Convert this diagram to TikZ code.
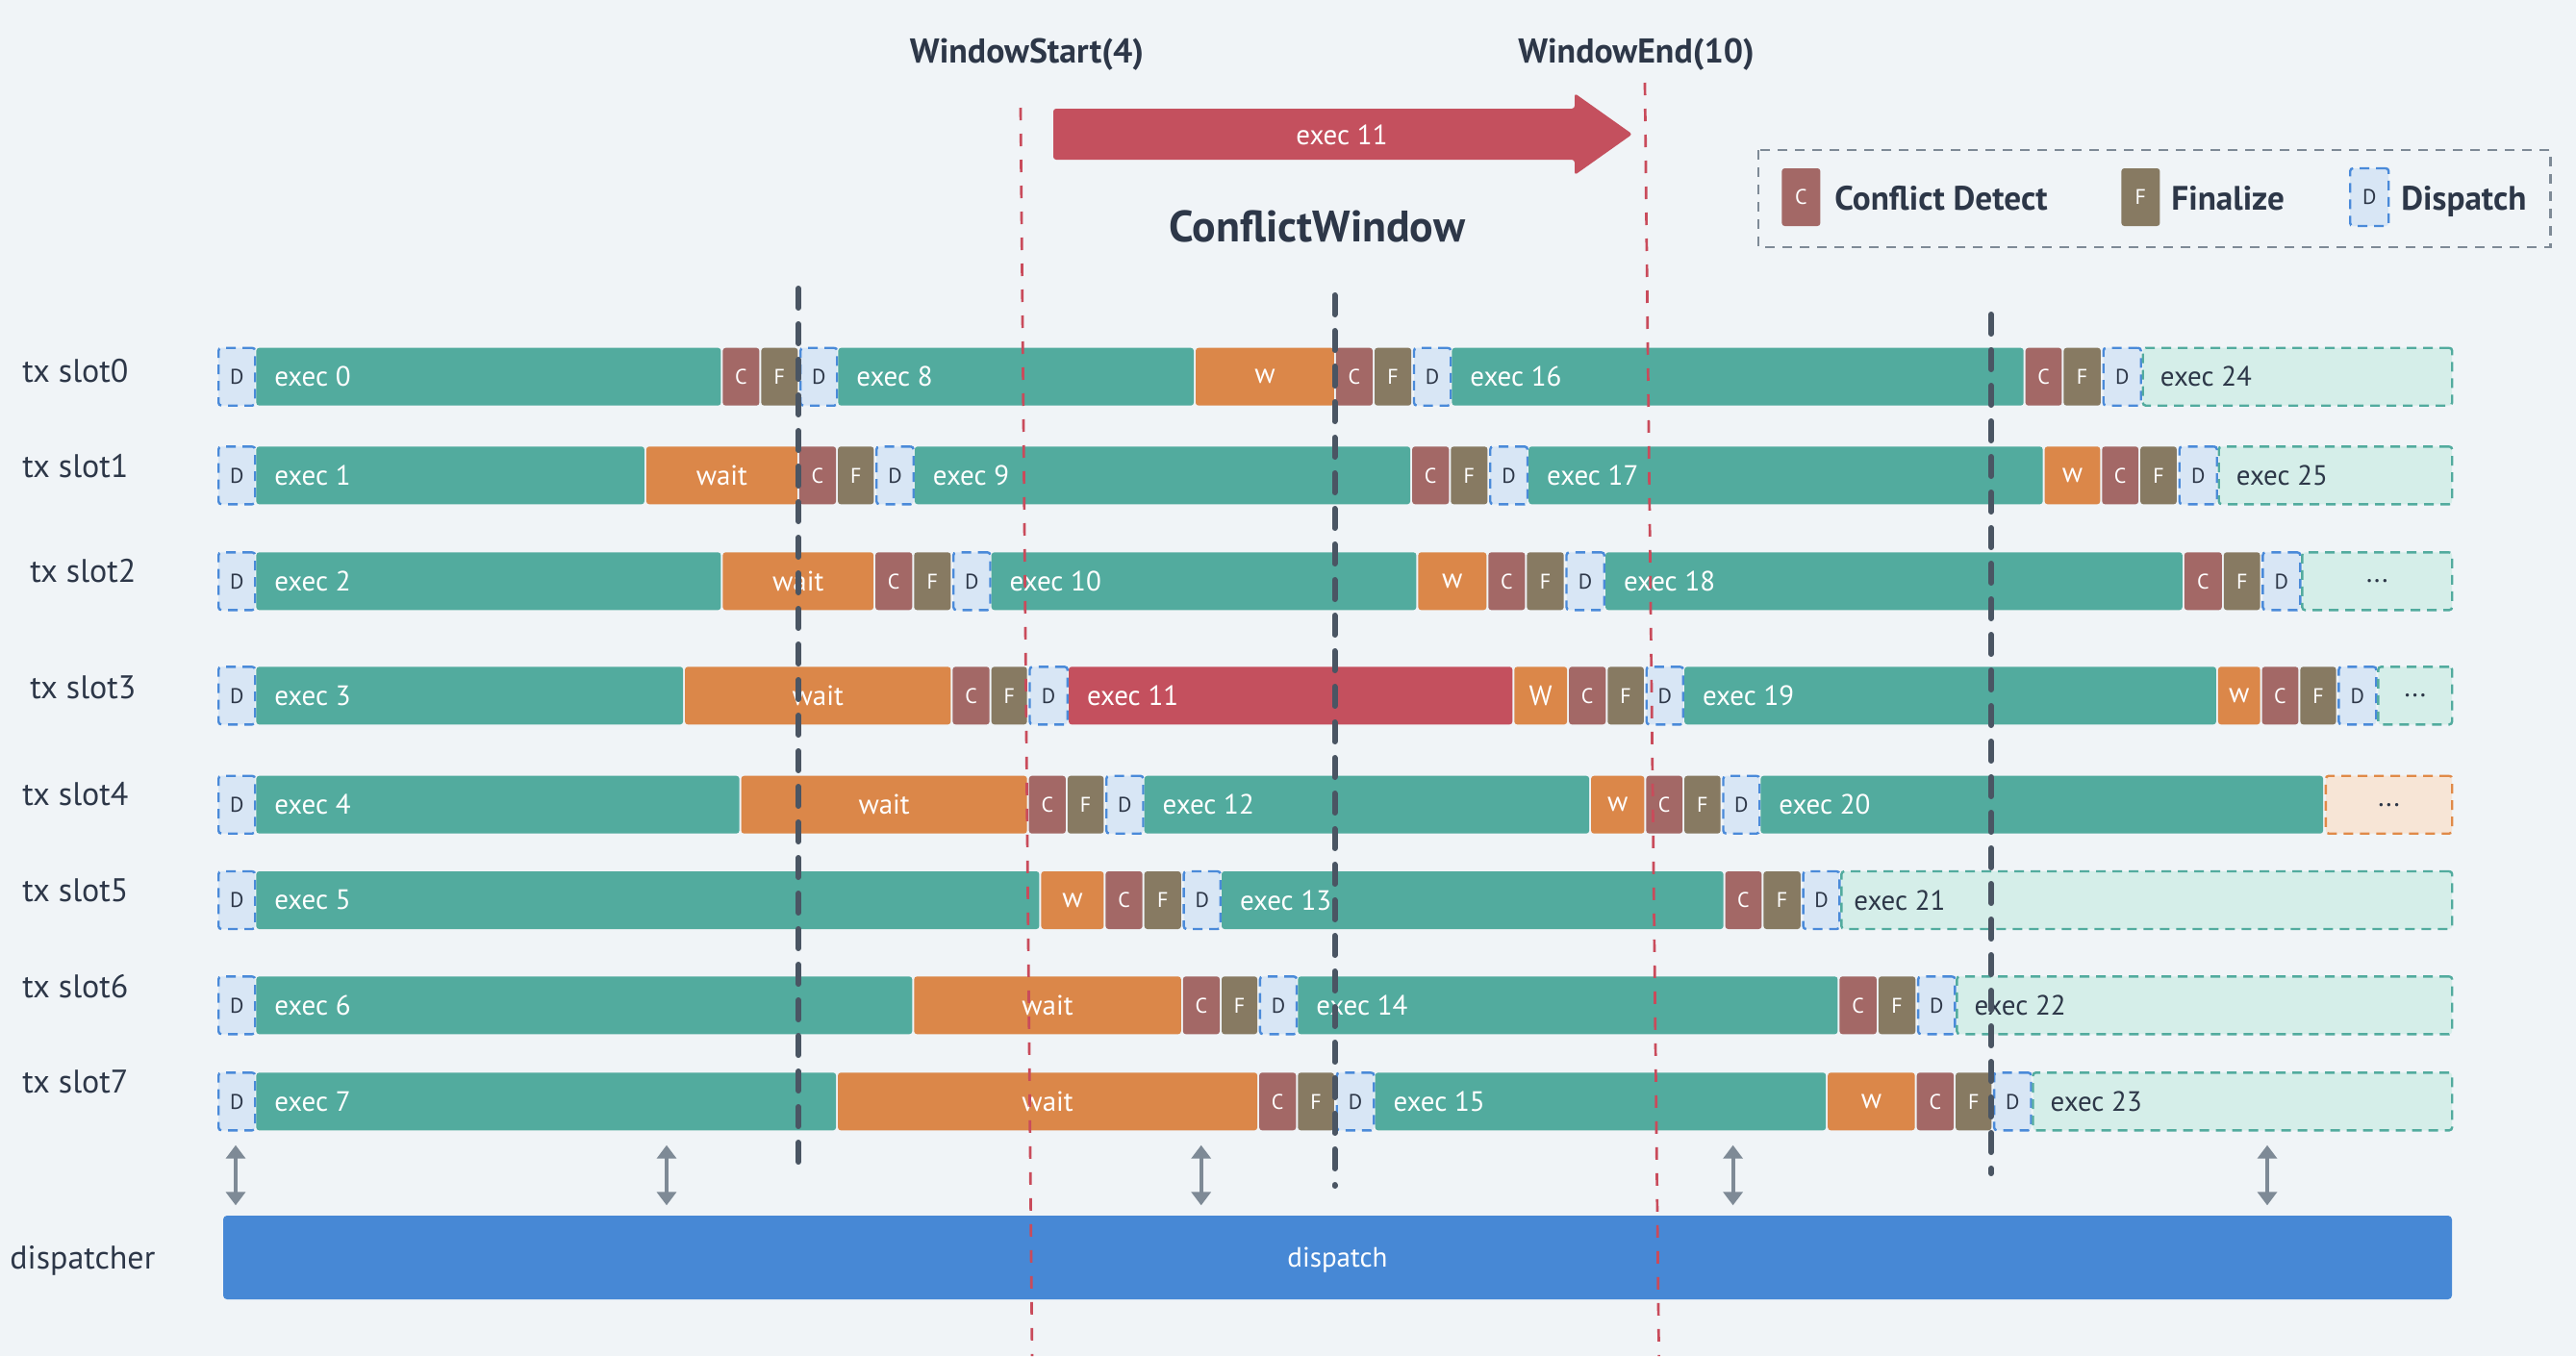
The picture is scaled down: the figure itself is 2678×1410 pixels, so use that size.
\documentclass[tikz,border=0pt]{standalone}
\usepackage{fontspec}
\setmainfont{PT Sans}
\usetikzlibrary{arrows.meta}
\definecolor{cBg}{HTML}{F0F4F7}
\definecolor{cExec}{HTML}{52AB9E}
\definecolor{cWait}{HTML}{DB8749}
\definecolor{cC}{HTML}{A36866}
\definecolor{cF}{HTML}{877A62}
\definecolor{cDfill}{HTML}{D8E6F5}
\definecolor{cDline}{HTML}{4A8AD9}
\definecolor{cRed}{HTML}{C4505E}
\definecolor{cFut}{HTML}{D5EEE9}
\definecolor{cOrFill}{HTML}{F7E5D6}
\definecolor{cOrLine}{HTML}{E08A48}
\definecolor{cText}{HTML}{2D3748}
\definecolor{cBlue}{HTML}{4788D5}
\definecolor{cGray}{HTML}{7E8A96}
\definecolor{cDark}{HTML}{4A5563}
\definecolor{cRedLine}{HTML}{C94B5B}
\newcommand\Blk[6]{\node[#1, minimum width={(#4-#3-2)*0.5pt}, anchor=west] (#2) at ({#3+1},#5) {#6};}
\newcommand\ExBlk[7]{\node[#1, minimum width={(#4-#3-2)*0.5pt}, anchor=west] (#2) at ({#3+1},#5) {};
  \node[#7, anchor=west] (#2t) at ({#3+20},#5) {#6};}
\tikzset{
  blkbase/.style={rectangle, rounded corners=1.5pt, minimum height=30pt, inner sep=0pt, font=\fontsize{14.5}{16}\selectfont},
  exb/.style={blkbase, fill=cExec},
  waitb/.style={blkbase, fill=cWait, text=white},
  cb/.style={blkbase, fill=cC, text=white, font=\fontsize{11}{12}\selectfont},
  fb/.style={blkbase, fill=cF, text=white, font=\fontsize{11}{12}\selectfont},
  db/.style={blkbase, fill=cDfill, draw=cDline, line width=1.2pt, dash pattern=on 5pt off 3.5pt, text=cText, font=\fontsize{11}{12}\selectfont},
  redb/.style={blkbase, fill=cRed},
  futb/.style={blkbase, fill=cFut, draw=cExec, line width=1.2pt, dash pattern=on 5pt off 3.5pt, text=cText},
  orb/.style={blkbase, fill=cOrFill, draw=cOrLine, line width=1.2pt, dash pattern=on 5pt off 3.5pt, text=cText},
  wtx/.style={text=white, inner sep=0pt, font=\fontsize{14.5}{16}\selectfont},
  dtx/.style={text=cText, inner sep=0pt, font=\fontsize{14.5}{16}\selectfont},
  slotlbl/.style={text=cText, inner sep=0pt, anchor=base west, font=\fontsize{17}{20}\selectfont},
  headlbl/.style={text=cText, inner sep=0pt, anchor=base, font=\fontsize{17.9}{20}\selectfont\bfseries},
  leglbl/.style={text=cText, inner sep=0pt, anchor=base west, font=\fontsize{17.6}{20}\selectfont\bfseries},
  winline/.style={cRedLine, line width=1.35pt, dash pattern=on 6.5pt off 7pt},
  cutline/.style={cDark, line width=3pt, line cap=round, dash pattern=on 10pt off 8.5pt},
  dblarrow/.style={cGray, line width=2pt, {Triangle[length=7pt,width=10pt]}-{Triangle[length=7pt,width=10pt]}},
}
\begin{document}
\begin{tikzpicture}[x=0.5pt,y=-0.5pt]
\useasboundingbox (0,0) rectangle (2678,1410);
\fill[cBg] (0,0) rectangle (2678,1410);

% headings
\node[headlbl] (wstart) at (1067.5,65) {WindowStart(4)};
\node[headlbl] (wend) at (1701,65) {WindowEnd(10)};
\node[headlbl, font=\fontsize{22.9}{26}\selectfont\bfseries] (cwin) at (1369.4,251.7) {ConflictWindow};

% exec 11 arrow
\fill[cRed, rounded corners=1.5pt] (1095,113) -- (1637,113) -- (1637,97) -- (1697,139.5) -- (1637,182) -- (1637,166) -- (1095,166) -- cycle;
\node[wtx] (arrlbl) at (1395,140) {exec 11};

% legend
\draw[cGray, line width=1.2pt, dash pattern=on 5pt off 4pt] (1828,156) rectangle (2651.5,256.7);
\node[cb, minimum width=20pt, anchor=west] (legC) at (1852,205) {C};
\node[leglbl] (legCt) at (1907,218.3) {Conflict Detect};
\node[fb, minimum width=20pt, anchor=west] (legF) at (2205,205) {F};
\node[leglbl] (legFt) at (2257,218.3) {Finalize};
\node[db, minimum width=20pt, anchor=west] (legD) at (2442,205) {D};
\node[leglbl] (legDt) at (2496,218.3) {Dispatch};

% row labels
\node[slotlbl] (l0) at (23,397.3) {tx slot0};
\node[slotlbl] (l1) at (23,496.7) {tx slot1};
\node[slotlbl] (l2) at (31,605.7) {tx slot2};
\node[slotlbl] (l3) at (31,726) {tx slot3};
\node[slotlbl] (l4) at (23,837.7) {tx slot4};
\node[slotlbl] (l5) at (23,937.7) {tx slot5};
\node[slotlbl] (l6) at (23,1037.3) {tx slot6};
\node[slotlbl] (l7) at (23,1136.7) {tx slot7};
\node[slotlbl] (ldisp) at (10,1319.3) {dispatcher};

% row 0
\def\ry{391.7}
\Blk{db}{d0a}{225}{265}{\ry}{D}
\ExBlk{exb}{e0}{265}{750}{\ry}{exec 0}{wtx}
\Blk{cb}{c0a}{750}{790}{\ry}{C}
\Blk{fb}{f0a}{790}{830}{\ry}{F}
\Blk{db}{d0b}{830}{870}{\ry}{D}
\ExBlk{exb}{e8}{870}{1241.6}{\ry}{exec 8}{wtx}
\Blk{waitb}{w0a}{1241.6}{1387.5}{\ry}{w}
\Blk{cb}{c0b}{1387.5}{1427.6}{\ry}{C}
\Blk{fb}{f0b}{1427.6}{1467.8}{\ry}{F}
\Blk{db}{d0c}{1467.8}{1508}{\ry}{D}
\ExBlk{exb}{e16}{1508}{2104.3}{\ry}{exec 16}{wtx}
\Blk{cb}{c0c}{2104.3}{2144}{\ry}{C}
\Blk{fb}{f0c}{2144}{2184.5}{\ry}{F}
\Blk{db}{d0d}{2184.5}{2225.5}{\ry}{D}
\ExBlk{futb}{e24}{2225.5}{2549}{\ry}{exec 24}{dtx}

% row 1
\def\ry{494.3}
\Blk{db}{d1a}{225}{265}{\ry}{D}
\ExBlk{exb}{e1}{265}{670.5}{\ry}{exec 1}{wtx}
\Blk{waitb}{w1a}{670.5}{829.5}{\ry}{wait}
\Blk{cb}{c1a}{829.5}{869.7}{\ry}{C}
\Blk{fb}{f1a}{869.7}{909}{\ry}{F}
\Blk{db}{d1b}{909}{949.5}{\ry}{D}
\ExBlk{exb}{e9}{949.5}{1466.7}{\ry}{exec 9}{wtx}
\Blk{cb}{c1b}{1466.7}{1506.9}{\ry}{C}
\Blk{fb}{f1b}{1506.9}{1547}{\ry}{F}
\Blk{db}{d1c}{1547}{1587.8}{\ry}{D}
\ExBlk{exb}{e17}{1587.8}{2124.2}{\ry}{exec 17}{wtx}
\Blk{waitb}{w1b}{2124.2}{2183.9}{\ry}{w}
\Blk{cb}{c1c}{2183.9}{2223.7}{\ry}{C}
\Blk{fb}{f1c}{2223.7}{2263.5}{\ry}{F}
\Blk{db}{d1d}{2263.5}{2304.5}{\ry}{D}
\ExBlk{futb}{e25}{2304.5}{2549}{\ry}{exec 25}{dtx}

% row 2
\def\ry{604.3}
\Blk{db}{d2a}{225}{265}{\ry}{D}
\ExBlk{exb}{e2}{265}{750}{\ry}{exec 2}{wtx}
\Blk{waitb}{w2a}{750}{908.7}{\ry}{wait}
\Blk{cb}{c2a}{908.7}{948.9}{\ry}{C}
\Blk{fb}{f2a}{948.9}{989}{\ry}{F}
\Blk{db}{d2b}{989}{1029.3}{\ry}{D}
\ExBlk{exb}{e10}{1029.3}{1473}{\ry}{exec 10}{wtx}
\Blk{waitb}{w2b}{1473}{1545.9}{\ry}{w}
\Blk{cb}{c2b}{1545.9}{1586}{\ry}{C}
\Blk{fb}{f2b}{1586}{1626.3}{\ry}{F}
\Blk{db}{d2c}{1626.3}{1667.6}{\ry}{D}
\ExBlk{exb}{e18}{1667.6}{2269.4}{\ry}{exec 18}{wtx}
\Blk{cb}{c2c}{2269.4}{2310.4}{\ry}{C}
\Blk{fb}{f2c}{2310.4}{2350.2}{\ry}{F}
\Blk{db}{d2d}{2350.2}{2391.1}{\ry}{D}
\Blk{futb}{x2}{2391.1}{2549}{\ry}{...}

% row 3
\def\ry{723.3}
\Blk{db}{d3a}{225}{265}{\ry}{D}
\ExBlk{exb}{e3}{265}{710.7}{\ry}{exec 3}{wtx}
\Blk{waitb}{w3a}{710.7}{989}{\ry}{wait}
\Blk{cb}{c3a}{989}{1029.3}{\ry}{C}
\Blk{fb}{f3a}{1029.3}{1068.3}{\ry}{F}
\Blk{db}{d3b}{1068.3}{1109.6}{\ry}{D}
\ExBlk{redb}{e11}{1109.6}{1572.9}{\ry}{exec 11}{wtx}
\Blk{waitb}{w3b}{1572.9}{1629.7}{\ry}{W}
\Blk{cb}{c3b}{1629.7}{1669.9}{\ry}{C}
\Blk{fb}{f3b}{1669.9}{1709.5}{\ry}{F}
\Blk{db}{d3c}{1709.5}{1749.7}{\ry}{D}
\ExBlk{exb}{e19}{1749.7}{2304.5}{\ry}{exec 19}{wtx}
\Blk{waitb}{w3c}{2304.5}{2350.2}{\ry}{w}
\Blk{cb}{c3c}{2350.2}{2390}{\ry}{C}
\Blk{fb}{f3c}{2390}{2429.2}{\ry}{F}
\Blk{db}{d3d}{2429.2}{2470.2}{\ry}{D}
\Blk{futb}{x3}{2470.2}{2549}{\ry}{...}

% row 4
\def\ry{836.7}
\Blk{db}{d4a}{225}{265}{\ry}{D}
\ExBlk{exb}{e4}{265}{769.2}{\ry}{exec 4}{wtx}
\Blk{waitb}{w4a}{769.2}{1068.3}{\ry}{wait}
\Blk{cb}{c4a}{1068.3}{1108.5}{\ry}{C}
\Blk{fb}{f4a}{1108.5}{1148}{\ry}{F}
\Blk{db}{d4b}{1148}{1188.3}{\ry}{D}
\ExBlk{exb}{e12}{1188.3}{1652.7}{\ry}{exec 12}{wtx}
\Blk{waitb}{w4b}{1652.7}{1710}{\ry}{w}
\Blk{cb}{c4b}{1710}{1749.7}{\ry}{C}
\Blk{fb}{f4b}{1749.7}{1789.3}{\ry}{F}
\Blk{db}{d4c}{1789.3}{1829}{\ry}{D}
\ExBlk{exb}{e20}{1829}{2415.7}{\ry}{exec 20}{wtx}
\Blk{orb}{x4}{2415.7}{2549}{\ry}{...}

% row 5
\def\ry{936}
\Blk{db}{d5a}{225}{265}{\ry}{D}
\ExBlk{exb}{e5}{265}{1081}{\ry}{exec 5}{wtx}
\Blk{waitb}{w5a}{1081}{1148}{\ry}{w}
\Blk{cb}{c5a}{1148}{1188.3}{\ry}{C}
\Blk{fb}{f5a}{1188.3}{1228.4}{\ry}{F}
\Blk{db}{d5b}{1228.4}{1268.6}{\ry}{D}
\ExBlk{exb}{e13}{1268.6}{1792.2}{\ry}{exec 13}{wtx}
\Blk{cb}{c5b}{1792.2}{1832}{\ry}{C}
\Blk{fb}{f5b}{1832}{1872.4}{\ry}{F}
\Blk{db}{d5c}{1872.4}{1912.2}{\ry}{D}
\node[futb, minimum width={(2549-1912.2-2)*0.5pt}, anchor=west] (e21) at (1913.2,\ry) {};
\node[dtx, anchor=west] (e21t) at (1927,\ry) {exec 21};

% row 6
\def\ry{1045.3}
\Blk{db}{d6a}{225}{265}{\ry}{D}
\ExBlk{exb}{e6}{265}{948.9}{\ry}{exec 6}{wtx}
\Blk{waitb}{w6a}{948.9}{1228.4}{\ry}{wait}
\Blk{cb}{c6a}{1228.4}{1268.6}{\ry}{C}
\Blk{fb}{f6a}{1268.6}{1307.7}{\ry}{F}
\Blk{db}{d6b}{1307.7}{1347.9}{\ry}{D}
\ExBlk{exb}{e14}{1347.9}{1911}{\ry}{exec 14}{wtx}
\Blk{cb}{c6b}{1911}{1951.5}{\ry}{C}
\Blk{fb}{f6b}{1951.5}{1991.9}{\ry}{F}
\Blk{db}{d6c}{1991.9}{2032.2}{\ry}{D}
\ExBlk{futb}{e22}{2032.2}{2549}{\ry}{exec 22}{dtx}

% row 7
\def\ry{1145.3}
\Blk{db}{d7a}{225}{265}{\ry}{D}
\ExBlk{exb}{e7}{265}{869.7}{\ry}{exec 7}{wtx}
\Blk{waitb}{w7a}{869.7}{1307.7}{\ry}{wait}
\Blk{cb}{c7a}{1307.7}{1347.9}{\ry}{C}
\Blk{fb}{f7a}{1347.9}{1387.5}{\ry}{F}
\Blk{db}{d7b}{1387.5}{1428.2}{\ry}{D}
\ExBlk{exb}{e15}{1428.2}{1898.8}{\ry}{exec 15}{wtx}
\Blk{waitb}{w7b}{1898.8}{1991.3}{\ry}{w}
\Blk{cb}{c7b}{1991.3}{2031.7}{\ry}{C}
\Blk{fb}{f7b}{2031.7}{2070.9}{\ry}{F}
\Blk{db}{d7c}{2070.9}{2111.3}{\ry}{D}
\ExBlk{futb}{e23}{2111.3}{2549}{\ry}{exec 23}{dtx}

% dispatcher
\node[rectangle, rounded corners=2pt, fill=cBlue, text=white, minimum width=1158.5pt, minimum height=43.5pt, inner sep=0pt, text depth=0pt, font=\fontsize{14.5}{16}\selectfont] (disp) at (1390.5,1307.5) {dispatch};

% double arrows
\foreach \i/\xx in {1/245,2/693,3/1248.7,4/1801.6,5/2357}{
  \coordinate (at\i) at (\xx,1190.7);
  \coordinate (ab\i) at (\xx,1253.3);
  \draw[dblarrow] (at\i) -- (ab\i);
}

% cut lines
\coordinate (k1t) at (830,300); \coordinate (k1b) at (830,1220);
\coordinate (k2t) at (1387.5,307); \coordinate (k2b) at (1387.5,1233);
\coordinate (k3t) at (2070,327); \coordinate (k3b) at (2070,1220);
\draw[cutline] (k1t) -- (k1b);
\draw[cutline] (k2t) -- (k2b);
\draw[cutline] (k3t) -- (k3b);

% window lines
\coordinate (wst) at (1061,112); \coordinate (wsb) at (1073,1410);
\coordinate (wet) at (1710,86); \coordinate (web) at (1724.6,1410);
\draw[winline] (wst) -- (wsb);
\draw[winline] (wet) -- (web);
\end{tikzpicture}
\end{document}
